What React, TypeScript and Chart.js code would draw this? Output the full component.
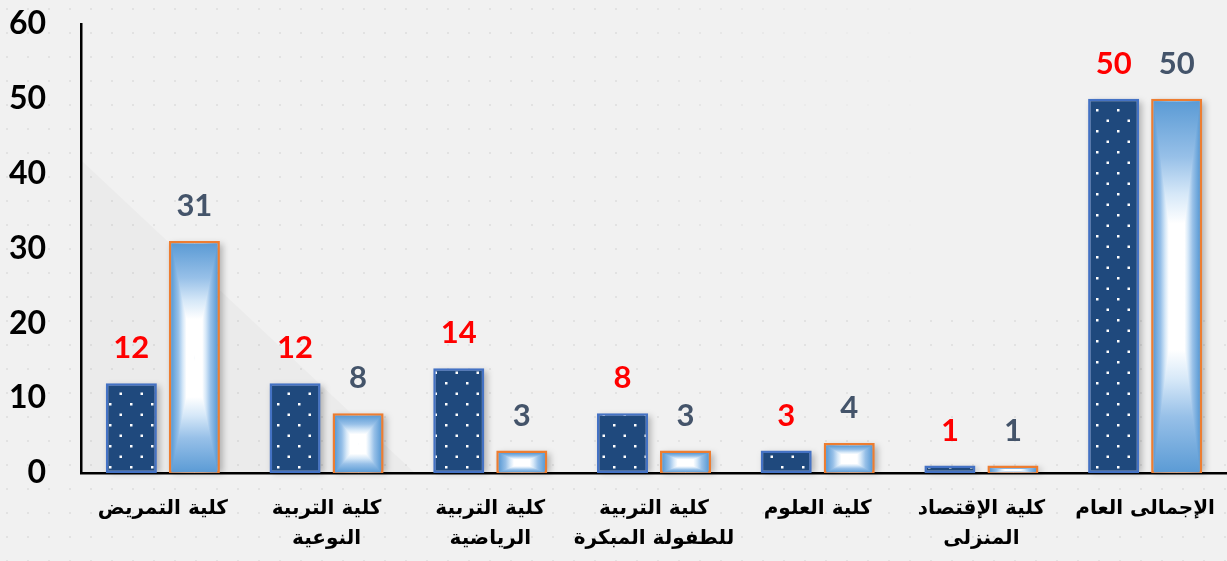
import React, { useEffect, useRef } from "react";
import { Chart, registerables } from "chart.js";

Chart.register(...registerables);

const categories: (string | string[])[] = [
  "كلية التمريض",
  ["كلية التربية", "النوعية"],
  ["كلية التربية", "الرياضية"],
  ["كلية التربية", "للطفولة المبكرة"],
  "كلية العلوم",
  ["كلية الإقتصاد", "المنزلى"],
  "الإجمالى العام",
];
const seriesA = [12, 12, 14, 8, 3, 1, 50];
const seriesB = [31, 8, 3, 3, 4, 1, 50];
const yTicks = [0, 10, 20, 30, 40, 50, 60];

const NAVY = "#1f497d";
const NAVY_BORDER = "#4472c4";
const BLUE_EDGE = "#5b9bd5";
const ORANGE = "#ed7d31";
const RED = "#ff0000";
const SLATE = "#44546a";

function makeDotPattern(ctx: CanvasRenderingContext2D) {
  const c = document.createElement("canvas");
  c.width = 21;
  c.height = 21;
  const g = c.getContext("2d")!;
  g.fillStyle = NAVY;
  g.fillRect(0, 0, 21, 21);
  g.fillStyle = "#ffffff";
  g.fillRect(4, 4, 2.5, 2.5);
  g.fillRect(14.5, 14.5, 2.5, 2.5);
  return ctx.createPattern(c, "repeat")!;
}

const backgroundPlugin = {
  id: "bgPlugin",
  beforeDraw(chart: any) {
    const { ctx, width, height } = chart;
    ctx.save();
    ctx.fillStyle = "#f1f1f1";
    ctx.fillRect(0, 0, width, height);
    for (let y = 8; y < height; y += 24) {
      for (let x = 6; x < width; x += 21) {
        let a = 0.06;
        if (y < 300 && x > 600) a *= Math.max(0, 1 - (x - 600) / 350);
        if (a <= 0.005) continue;
        ctx.fillStyle = `rgba(0,0,0,${a})`;
        ctx.fillRect(x, y, 2, 2);
      }
    }
    ctx.fillStyle = "rgba(0,0,0,0.022)";
    ctx.beginPath();
    ctx.moveTo(81, 160);
    ctx.lineTo(415, 473);
    ctx.lineTo(81, 473);
    ctx.closePath();
    ctx.fill();
    ctx.restore();
  },
};

const shadowPlugin = {
  id: "barShadow",
  beforeDatasetsDraw(chart: any) {
    const { ctx } = chart;
    ctx.save();
    ctx.filter = "blur(3px)";
    ctx.fillStyle = "rgba(0,0,0,0.25)";
    chart.data.datasets.forEach((_: any, di: number) => {
      const meta = chart.getDatasetMeta(di);
      meta.data.forEach((el: any) => {
        const { x, y, base, width } = el.getProps(["x", "y", "base", "width"], true);
        const top = Math.min(y, base);
        const bot = Math.max(y, base);
        ctx.fillRect(x - width / 2 + 3, top + 3, width, bot - top - 3);
      });
    });
    ctx.restore();
  },
};

const rectGradientPlugin = {
  id: "rectGradient",
  afterDatasetDraw(chart: any, args: any) {
    if (args.index !== 1) return;
    const { ctx } = chart;
    const bw = 2.5;
    const meta = chart.getDatasetMeta(1);
    const stops: [number, string][] = [
      [0, BLUE_EDGE],
      [0.3, "#97c0e8"],
      [0.5, "#d6e8f8"],
      [0.66, "#ffffff"],
      [1, "#ffffff"],
    ];
    meta.data.forEach((el: any) => {
      const { x, y, base, width } = el.getProps(["x", "y", "base", "width"], true);
      const l = x - width / 2 + bw;
      const r = x + width / 2 - bw;
      const t = Math.min(y, base) + bw;
      const b = Math.max(y, base) - 0.5;
      if (r <= l || b <= t) return;
      const cx = (l + r) / 2;
      const cy = (t + b) / 2;
      ctx.save();
      ctx.beginPath();
      ctx.rect(l, t, r - l, b - t);
      ctx.clip();
      const fillGrad = (g: CanvasGradient) => {
        stops.forEach(([o, c]) => g.addColorStop(o, c));
        ctx.fillStyle = g;
      };
      // horizontal part covers the whole bar (left + right halves)
      fillGrad(ctx.createLinearGradient(l, 0, cx, 0));
      ctx.fillRect(l, t, cx - l + 0.5, b - t);
      fillGrad(ctx.createLinearGradient(r, 0, cx, 0));
      ctx.fillRect(cx, t, r - cx, b - t);
      // top and bottom triangles
      fillGrad(ctx.createLinearGradient(0, t, 0, cy));
      ctx.beginPath();
      ctx.moveTo(l, t);
      ctx.lineTo(r, t);
      ctx.lineTo(cx, cy);
      ctx.closePath();
      ctx.fill();
      fillGrad(ctx.createLinearGradient(0, b, 0, cy));
      ctx.beginPath();
      ctx.moveTo(l, b);
      ctx.lineTo(r, b);
      ctx.lineTo(cx, cy);
      ctx.closePath();
      ctx.fill();
      ctx.restore();
    });
  },
};

const valueLabelPlugin = {
  id: "valueLabels",
  afterDatasetsDraw(chart: any) {
    const { ctx } = chart;
    ctx.save();
    ctx.font = "bold 31px Lato, 'DejaVu Sans', sans-serif";
    ctx.textAlign = "center";
    ctx.textBaseline = "alphabetic";
    chart.data.datasets.forEach((ds: any, di: number) => {
      const meta = chart.getDatasetMeta(di);
      ctx.fillStyle = di === 0 ? RED : SLATE;
      meta.data.forEach((el: any, i: number) => {
        const { x, y } = el.getProps(["x", "y"], true);
        ctx.fillText(String(ds.data[i]), x, y - 25);
      });
    });
    ctx.restore();
  },
};

export default function App() {
  const canvasRef = useRef<HTMLCanvasElement | null>(null);

  useEffect(() => {
    document.body.style.margin = "0";
    const canvas = canvasRef.current!;
    const ctx = canvas.getContext("2d")!;
    const pattern = makeDotPattern(ctx);
    const chart = new Chart(canvas, {
      type: "bar",
      data: {
        labels: categories,
        datasets: [
          {
            label: "A",
            data: seriesA,
            backgroundColor: pattern,
            borderColor: NAVY_BORDER,
            borderWidth: 2.5,
            borderSkipped: false,
            categoryPercentage: 0.77,
            barPercentage: 0.81,
          },
          {
            label: "B",
            data: seriesB,
            backgroundColor: BLUE_EDGE,
            borderColor: ORANGE,
            borderWidth: 2.5,
            borderSkipped: false,
            categoryPercentage: 0.77,
            barPercentage: 0.81,
          },
        ],
      },
      options: {
        animation: false,
        responsive: true,
        maintainAspectRatio: false,
        layout: { padding: { top: 24, right: 0, left: 0, bottom: 0 } },
        plugins: {
          legend: { display: false },
          tooltip: { enabled: false },
        },
        scales: {
          x: {
            grid: { display: false, drawTicks: false },
            border: { display: true, color: "#000", width: 2.5 },
            ticks: {
              color: "#000",
              padding: 21,
              maxRotation: 0,
              autoSkip: false,
              font: { family: "'DejaVu Sans', sans-serif", weight: "bold", size: 20, lineHeight: 1.5 },
            },
            afterFit(scale: any) {
              scale.height = 88;
              scale.paddingLeft = 0;
              scale.paddingRight = 0;
            },
          },
          y: {
            min: 0,
            max: 60,
            afterBuildTicks(scale: any) {
              scale.ticks = yTicks.map((v) => ({ value: v }));
            },
            grid: { display: false, drawTicks: false },
            border: { display: true, color: "#000", width: 2.5 },
            ticks: {
              color: "#000",
              padding: 35,
              font: { family: "Lato, 'DejaVu Sans', sans-serif", weight: "bold", size: 32 },
            },
            afterFit(scale: any) {
              scale.width = 81;
              scale.paddingTop = 0;
              scale.paddingBottom = 0;
            },
          },
        },
      },
      plugins: [backgroundPlugin, shadowPlugin, rectGradientPlugin, valueLabelPlugin],
    });
    return () => chart.destroy();
  }, []);

  return (
    <div style={{ position: "absolute", left: 0, top: 0, width: 1227, height: 561 }}>
      <canvas ref={canvasRef} />
    </div>
  );
}
